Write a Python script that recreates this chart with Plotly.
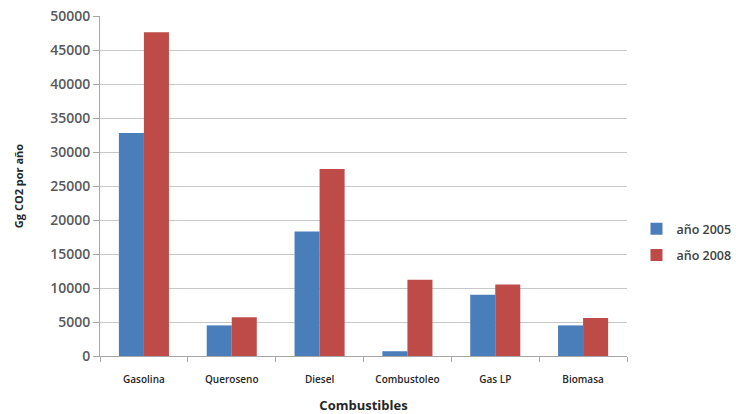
import plotly.graph_objects as go

categories = ["Gasolina", "Queroseno", "Diesel", "Combustoleo", "Gas LP", "Biomasa"]
values_2005 = [32800, 4500, 18300, 700, 9000, 4500]
values_2008 = [47600, 5700, 27500, 11200, 10500, 5600]
series_names = ["año 2005", "año 2008"]
y_ticks = list(range(0, 50001, 5000))
y_ticktext = [str(v) for v in y_ticks]

fig = go.Figure()
fig.add_trace(go.Bar(x=categories, y=values_2005, name=series_names[0], legendgroup="a",
                     marker=dict(color="#4a7ebb", line=dict(width=0))))
fig.add_trace(go.Bar(x=categories, y=values_2008, name=series_names[1], legendgroup="b",
                     marker=dict(color="#be4b48", line=dict(width=0))))

fig.update_layout(
    width=736, height=414,
    margin=dict(l=100, r=109, t=16, b=58, autoexpand=False),
    paper_bgcolor="white", plot_bgcolor="white",
    barmode="group", bargap=0.43, bargroupgap=0,
    font=dict(family="Open Sans, sans-serif", color="#404040"),
    legend=dict(x=1.018, y=0.335, xanchor="left", yanchor="middle",
                font=dict(size=12.5, color="#404040", weight=600),
                itemwidth=30, traceorder="grouped", tracegroupgap=7),
    xaxis=dict(
        title=dict(text="<b>Combustibles</b>", font=dict(size=13, color="#262626"), standoff=16),
        tickfont=dict(size=10, color="#262626", weight=600),
        ticklabelstandoff=14,
        showline=True, linecolor="#a6a6a6", linewidth=1,
        showgrid=False,
        ticks="outside", ticklen=5, tickcolor="#a6a6a6", tickson="boundaries",
    ),
    yaxis=dict(
        title=dict(text="<b>Gg CO2 por año</b>", font=dict(size=11, color="#262626"), standoff=24),
        range=[0, 50000], tickvals=y_ticks, ticktext=y_ticktext,
        tickfont=dict(size=14, color="#595959", weight=600),
        showline=True, linecolor="#a6a6a6", linewidth=1,
        ticks="outside", ticklen=6, tickcolor="#a6a6a6",
        showgrid=True, gridcolor="#c8c8c8", gridwidth=1, zeroline=False,
    ),
)

fig.write_html("out.html")
